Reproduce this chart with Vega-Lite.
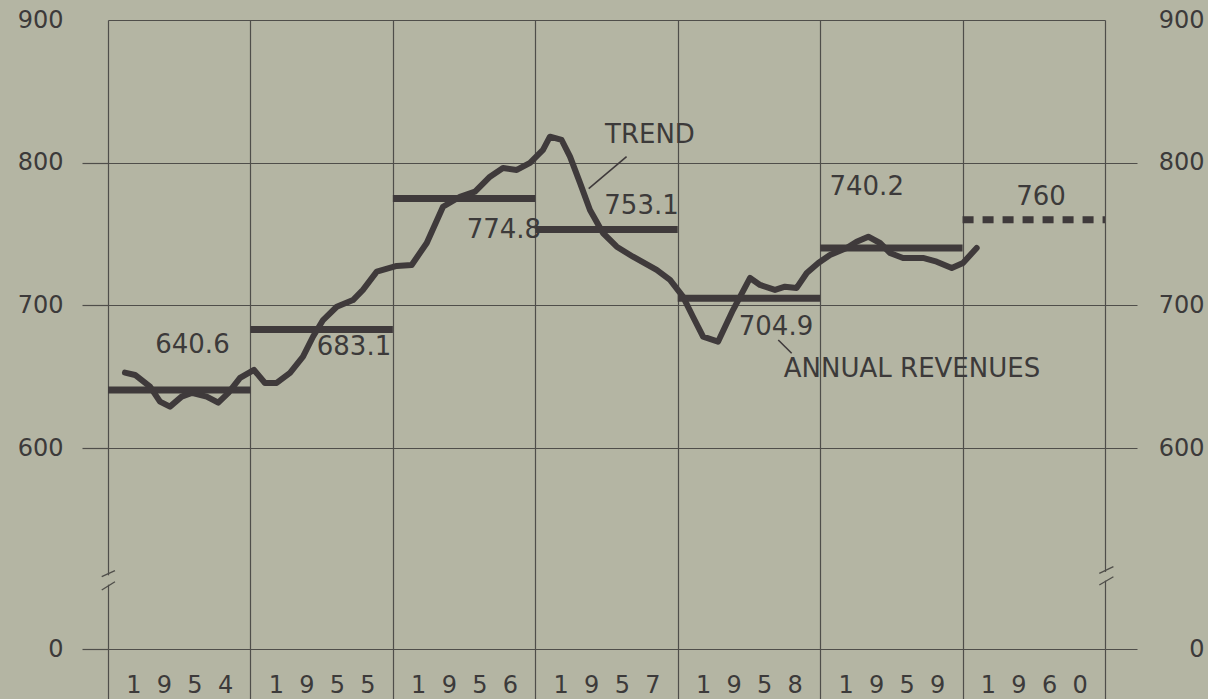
{
  "$schema": "https://vega.github.io/schema/vega-lite/v6.json",
  "width": 997,
  "height": 629,
  "autosize": {"type": "none"},
  "padding": {"left": 108, "top": 20, "right": 103, "bottom": 50},
  "background": "#b4b5a3",
  "config": {
    "view": {"stroke": null},
    "font": "DejaVu Sans",
    "text": {"font": "DejaVu Sans", "color": "#3c3a3a"}
  },
  "datasets": {
    "trend": [
      {"year": 1954.119, "value": 652.8}, {"year": 1954.190, "value": 651.2}, {"year": 1954.295, "value": 643.0},
      {"year": 1954.365, "value": 632.5}, {"year": 1954.435, "value": 629.0}, {"year": 1954.517, "value": 636.0},
      {"year": 1954.588, "value": 638.6}, {"year": 1954.693, "value": 636.0}, {"year": 1954.774, "value": 631.8},
      {"year": 1954.845, "value": 638.6}, {"year": 1954.927, "value": 649.1}, {"year": 1955.025, "value": 654.7},
      {"year": 1955.102, "value": 645.6}, {"year": 1955.184, "value": 645.6}, {"year": 1955.278, "value": 652.6},
      {"year": 1955.369, "value": 664.0}, {"year": 1955.439, "value": 678.0}, {"year": 1955.510, "value": 689.7},
      {"year": 1955.606, "value": 699.0}, {"year": 1955.720, "value": 703.7}, {"year": 1955.790, "value": 710.8},
      {"year": 1955.887, "value": 723.6}, {"year": 1956.027, "value": 727.6}, {"year": 1956.132, "value": 728.3},
      {"year": 1956.238, "value": 743.7}, {"year": 1956.352, "value": 769.1}, {"year": 1956.471, "value": 776.1},
      {"year": 1956.577, "value": 779.7}, {"year": 1956.682, "value": 790.2}, {"year": 1956.773, "value": 796.3},
      {"year": 1956.870, "value": 794.9}, {"year": 1956.963, "value": 799.8}, {"year": 1957.054, "value": 808.9},
      {"year": 1957.103, "value": 818.2}, {"year": 1957.185, "value": 815.9}, {"year": 1957.244, "value": 804.2},
      {"year": 1957.314, "value": 785.8}, {"year": 1957.384, "value": 766.8}, {"year": 1957.475, "value": 750.7},
      {"year": 1957.572, "value": 741.1}, {"year": 1957.686, "value": 734.1}, {"year": 1957.852, "value": 724.8},
      {"year": 1957.946, "value": 717.8}, {"year": 1958.037, "value": 706.1}, {"year": 1958.107, "value": 692.0},
      {"year": 1958.178, "value": 678.0}, {"year": 1958.283, "value": 674.5}, {"year": 1958.388, "value": 696.7},
      {"year": 1958.508, "value": 719.2}, {"year": 1958.578, "value": 714.3}, {"year": 1958.683, "value": 710.8},
      {"year": 1958.753, "value": 713.1}, {"year": 1958.835, "value": 712.2}, {"year": 1958.906, "value": 722.7},
      {"year": 1958.987, "value": 729.7}, {"year": 1959.069, "value": 735.3}, {"year": 1959.186, "value": 740.2},
      {"year": 1959.256, "value": 744.6}, {"year": 1959.338, "value": 748.1}, {"year": 1959.420, "value": 743.7},
      {"year": 1959.490, "value": 736.7}, {"year": 1959.582, "value": 733.2}, {"year": 1959.722, "value": 733.2},
      {"year": 1959.818, "value": 730.6}, {"year": 1959.924, "value": 726.2}, {"year": 1960.003, "value": 729.7},
      {"year": 1960.099, "value": 740.2}
    ],
    "annual": [
      {"year": 1954, "end": 1955, "value": 640.6, "kind": "actual"},
      {"year": 1955, "end": 1956, "value": 683.1, "kind": "actual"},
      {"year": 1956, "end": 1957, "value": 774.8, "kind": "actual"},
      {"year": 1957, "end": 1958, "value": 753.1, "kind": "actual"},
      {"year": 1958, "end": 1959, "value": 704.9, "kind": "actual"},
      {"year": 1959, "end": 1960, "value": 740.2, "kind": "actual"},
      {"year": 1960, "end": 1961, "value": 760, "kind": "estimate"}
    ],
    "labels": [
      {"year": 1954.593, "value": 672.2, "text": "640.6", "align": "center"},
      {"year": 1955.727, "value": 670.8, "text": "683.1", "align": "center"},
      {"year": 1956.780, "value": 752.8, "text": "774.8", "align": "center"},
      {"year": 1957.746, "value": 769.6, "text": "753.1", "align": "center"},
      {"year": 1958.690, "value": 685.0, "text": "704.9", "align": "center"},
      {"year": 1959.327, "value": 782.6, "text": "740.2", "align": "center"},
      {"year": 1960.551, "value": 775.9, "text": "760", "align": "center"},
      {"year": 1957.805, "value": 819.4, "text": "TREND", "align": "center"},
      {"year": 1959.645, "value": 655.4, "text": "ANNUAL REVENUES", "align": "center"}
    ],
    "pointers": [
      {"year": 1957.641, "end": 1957.375, "value": 804.2, "value2": 781.8},
      {"year": 1958.706, "end": 1958.800, "value": 675.7, "value2": 666.4}
    ],
    "gaps": [
      {"year": 1954, "end": 1954, "value": 192, "value2": 220},
      {"year": 1961, "end": 1961, "value": 204, "value2": 230}
    ],
    "breaks": [
      {"year": 1953.956, "end": 1954.049, "value": 215.8, "value2": 233.7},
      {"year": 1953.956, "end": 1954.049, "value": 176.0, "value2": 200.9},
      {"year": 1960.960, "end": 1961.059, "value": 226.0, "value2": 245.7},
      {"year": 1960.960, "end": 1961.059, "value": 191.0, "value2": 215.8}
    ]
  },
  "encoding": {
    "x": {
      "field": "year",
      "type": "quantitative",
      "scale": {"domain": [1954, 1961], "nice": false, "zero": false},
      "axis": {
        "title": null,
        "values": [1954, 1955, 1956, 1957, 1958, 1959, 1960, 1961],
        "domain": false,
        "grid": true,
        "gridColor": "#4f4e4a",
        "gridWidth": 1.2,
        "gridOpacity": 1,
        "ticks": true,
        "tickSize": 50,
        "tickColor": "#4f4e4a",
        "tickWidth": 1.2,
        "labelExpr": "datum.value >= 1961 ? '' : join(split(toString(datum.value), ''), '\u2007')",
        "labelOffset": 71.2,
        "labelPadding": -14,
        "labelBaseline": "middle",
        "labelAlign": "center",
        "labelFlush": false,
        "labelOverlap": false,
        "labelBound": false,
        "labelFont": "DejaVu Sans",
        "labelFontSize": 24,
        "labelColor": "#3c3a3a"
      }
    },
    "y": {
      "field": "value",
      "type": "quantitative",
      "scale": {"domain": [0, 600, 900], "range": [629, 428, 0], "nice": false, "zero": false},
      "axis": null
    }
  },
  "layer": [
    {
      "data": {"name": "trend"},
      "mark": {"type": "line", "color": "#3f3a3b", "strokeWidth": 6, "strokeCap": "round", "strokeJoin": "round"},
      "encoding": {
        "y": {
          "field": "value",
          "type": "quantitative",
          "scale": {"domain": [0, 600, 900], "range": [629, 428, 0], "nice": false, "zero": false},
          "axis": {
            "title": null,
            "orient": "left",
            "values": [0, 600, 700, 800, 900],
            "domain": false,
            "grid": true,
            "gridColor": "#4f4e4a",
            "gridWidth": 1.2,
            "gridOpacity": 1,
            "tickSize": 26,
            "tickColor": "#4f4e4a",
            "tickWidth": 1.2,
            "tickOpacity": {"condition": {"test": "datum.value == 900", "value": 0}, "value": 1},
            "labelPadding": 19,
            "labelBaseline": "middle",
            "labelOverlap": false,
            "labelFlush": false,
            "labelBound": false,
            "labelFont": "DejaVu Sans",
            "labelFontSize": 24,
            "labelColor": "#3c3a3a"
          }
        }
      }
    },
    {
      "data": {"name": "annual"},
      "mark": {"type": "rule", "color": "#3f3a3b", "strokeWidth": 7},
      "encoding": {
        "x2": {"field": "end"},
        "y": {
          "field": "value",
          "type": "quantitative",
          "scale": {"domain": [0, 600, 900], "range": [629, 428, 0], "nice": false, "zero": false},
          "axis": {
            "title": null,
            "orient": "right",
            "values": [0, 600, 700, 800, 900],
            "domain": false,
            "grid": false,
            "tickSize": 32,
            "tickColor": "#4f4e4a",
            "tickWidth": 1.2,
            "tickOpacity": {"condition": {"test": "datum.value == 900", "value": 0}, "value": 1},
            "labelAlign": "right",
            "labelPadding": 67,
            "labelBaseline": "middle",
            "labelOverlap": false,
            "labelFlush": false,
            "labelBound": false,
            "labelFont": "DejaVu Sans",
            "labelFontSize": 24,
            "labelColor": "#3c3a3a"
          }
        },
        "strokeDash": {
          "field": "kind",
          "type": "nominal",
          "scale": {"domain": ["actual", "estimate"], "range": [[1, 0], [11, 9]]},
          "legend": null
        }
      }
    },
    {
      "data": {"name": "labels"},
      "mark": {"type": "text", "fontSize": 26, "font": "DejaVu Sans", "color": "#3c3a3a", "baseline": "middle"},
      "encoding": {
        "text": {"field": "text"},
        "align": {"field": "align"}
      }
    },
    {
      "data": {"name": "pointers"},
      "mark": {"type": "rule", "color": "#3f3a3b", "strokeWidth": 1.6},
      "encoding": {
        "x2": {"field": "end"},
        "y2": {"field": "value2"}
      }
    },
    {
      "data": {"name": "gaps"},
      "mark": {"type": "rule", "color": "#b4b5a3", "strokeWidth": 4},
      "encoding": {
        "x2": {"field": "end"},
        "y2": {"field": "value2"}
      }
    },
    {
      "data": {"name": "breaks"},
      "mark": {"type": "rule", "color": "#4f4e4a", "strokeWidth": 1.3},
      "encoding": {
        "x2": {"field": "end"},
        "y2": {"field": "value2"}
      }
    }
  ],
  "resolve": {"axis": {"y": "independent"}}
}
